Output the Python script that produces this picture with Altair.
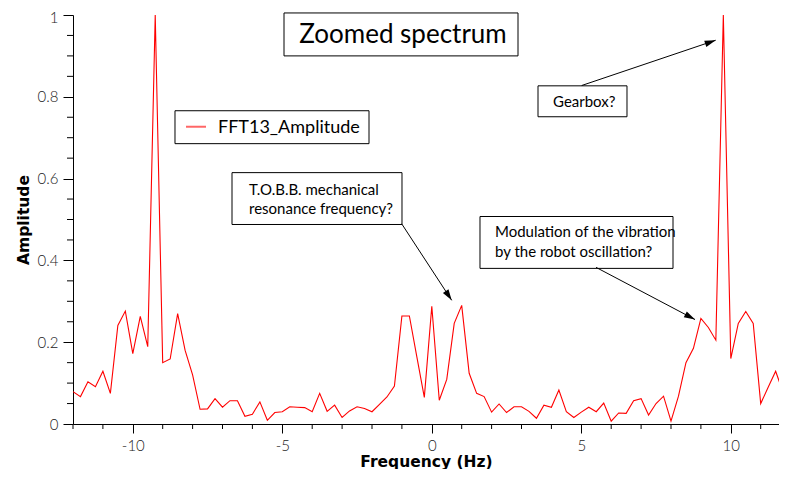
import math
import altair as alt
import pandas as pd

# ---------------- data ----------------
freq_hz = [
    -12.0, -11.75, -11.5, -11.25, -11.0, -10.75, -10.5, -10.25, -10.0, -9.75,
    -9.5, -9.25, -9.0, -8.75, -8.5, -8.25, -8.0, -7.75, -7.5, -7.25,
    -7.0, -6.75, -6.5, -6.25, -6.0, -5.75, -5.5, -5.25, -5.0, -4.75,
    -4.5, -4.25, -4.0, -3.75, -3.5, -3.25, -3.0, -2.75, -2.5, -2.25,
    -2.0, -1.75, -1.5, -1.25, -1.0, -0.75, -0.5, -0.25, 0.0, 0.25,
    0.5, 0.75, 1.0, 1.25, 1.5, 1.75, 2.0, 2.25, 2.5, 2.75,
    3.0, 3.25, 3.5, 3.75, 4.0, 4.25, 4.5, 4.75, 5.0, 5.25,
    5.5, 5.75, 6.0, 6.25, 6.5, 6.75, 7.0, 7.25, 7.5, 7.75,
    8.0, 8.25, 8.5, 8.75, 9.0, 9.25, 9.5, 9.75, 10.0, 10.25,
    10.5, 10.75, 11.0, 11.25, 11.5, 11.75, 12.0,
]
amplitude = [
    0.079, 0.067, 0.103, 0.091, 0.129, 0.075, 0.241, 0.276, 0.172, 0.263,
    0.189, 1.000, 0.150, 0.159, 0.270, 0.180, 0.120, 0.036, 0.037, 0.062,
    0.041, 0.057, 0.057, 0.019, 0.024, 0.054, 0.009, 0.028, 0.030, 0.042,
    0.041, 0.040, 0.030, 0.075, 0.031, 0.046, 0.016, 0.032, 0.042, 0.038,
    0.030, 0.048, 0.066, 0.093, 0.264, 0.264, 0.164, 0.065, 0.288, 0.058,
    0.109, 0.246, 0.290, 0.124, 0.075, 0.067, 0.029, 0.049, 0.028, 0.042,
    0.042, 0.031, 0.014, 0.046, 0.041, 0.083, 0.030, 0.016, 0.029, 0.041,
    0.030, 0.051, 0.007, 0.027, 0.026, 0.057, 0.062, 0.022, 0.050, 0.068,
    0.007, 0.068, 0.150, 0.185, 0.258, 0.236, 0.205, 1.000, 0.160, 0.246,
    0.275, 0.246, 0.050, 0.090, 0.129, 0.077, 0.107,
]
series_name = "FFT13_Amplitude"

x_major_ticks = [-10, -5, 0, 5, 10]
x_minor_ticks = [-12, -11, -9, -8, -7, -6, -4, -3, -2, -1,
                 1, 2, 3, 4, 6, 7, 8, 9, 11]
y_major_ticks = [0, 0.2, 0.4, 0.6, 0.8, 1.0]
y_minor_ticks = [0.05, 0.1, 0.15, 0.25, 0.3, 0.35, 0.45, 0.5, 0.55,
                 0.65, 0.7, 0.75, 0.85, 0.9, 0.95]

chart_title = "Zoomed spectrum"
note_lines = [
    ["T.O.B.B. mechanical", "resonance frequency?"],
    ["Gearbox?"],
    ["Modulation of the vibration", "by the robot oscillation?"],
]

# ---------------- layout (data units) ----------------
PX_PER_X = 29.9
PX_PER_Y = 409.0
PLOT_W, PLOT_H = 706, 409
X_DOMAIN = [-12, -12 + PLOT_W / PX_PER_X]
Y_DOMAIN = [0, 1]

title_box = {"x": -4.943, "x2": 2.883, "y": 1.005, "y2": 0.900}
title_anchor = {"x": -0.963, "y": 0.951}

legend_box = {"x": -8.589, "x2": -2.10, "y": 0.7659, "y2": 0.6854}
legend_sample = {"x": -8.221, "x2": -7.552, "y": 0.7268}
legend_text_pos = {"x": -7.151, "y": 0.7115}

note_boxes = [
    {"x": -6.682, "x2": -0.997, "y": 0.6146, "y2": 0.4878},
    {"x": 3.552, "x2": 6.528, "y": 0.8268, "y2": 0.7512},
    {"x": 1.612, "x2": 8.067, "y": 0.5073, "y2": 0.3805},
]
note_text_x = [-6.114, 4.054, 2.114]
note_text_y = [[0.5593, 0.5139], [0.776], [0.4568, 0.408]]

arrows = [
    {"x": -1.007, "y": 0.4895, "x2": 0.666, "y2": 0.3024},
    {"x": 5.013, "y": 0.8276, "x2": 9.495, "y2": 0.9383},
    {"x": 5.492, "y": 0.383, "x2": 8.803, "y2": 0.2554},
]
HEAD_LEN = 11
MAJOR_TICK, MINOR_TICK_X, MINOR_TICK_Y = 9, 5, 6

FONT = "Lato"
TITLE_FONT = "DejaVu Sans"
LINE_RED = "#ff0000"

# ---------------- build tables ----------------
df = pd.DataFrame({"freq": freq_hz, "amp": amplitude, "series": series_name})

box_df = pd.DataFrame(note_boxes + [legend_box])
title_box_df = pd.DataFrame([title_box])

text_rows = []
for lines, tx, tys in zip(note_lines, note_text_x, note_text_y):
    for line, ty in zip(lines, tys):
        text_rows.append({"x": tx, "y": ty, "text": line})
text_df = pd.DataFrame(text_rows)

head_rows = []
for a in arrows:
    dxp = (a["x2"] - a["x"]) * PX_PER_X
    dyp = -(a["y2"] - a["y"]) * PX_PER_Y
    L = math.hypot(dxp, dyp)
    ux, uy = dxp / L, dyp / L
    ang = math.degrees(math.atan2(ux, -uy)) % 360
    cx = a["x2"] - (HEAD_LEN / 2) * ux / PX_PER_X
    cy = a["y2"] + (HEAD_LEN / 2) * uy / PX_PER_Y
    head_rows.append({"x": cx, "y": cy, "angle": ang})
head_df = pd.DataFrame(head_rows)
arrow_df = pd.DataFrame(arrows)

xs = alt.Scale(domain=X_DOMAIN, nice=False, zero=False)
ys = alt.Scale(domain=Y_DOMAIN, nice=False, zero=False)


def build(top_label_offset):
    x_axis = alt.Axis(
        values=x_major_ticks,
        labelExpr="'' + datum.value",
        tickSize=MAJOR_TICK,
        grid=False, domainColor="black", tickColor="black",
        labelFont=FONT, labelFontSize=15, labelFontWeight=300, labelColor="#222",
        labelPadding=5, labelFlush=False,
        title="Frequency (Hz)", titleFont=TITLE_FONT, titleFontWeight="bold",
        titleFontSize=15.5, titleColor="black", titlePadding=1,
    )
    y_kwargs = dict(
        values=y_major_ticks,
        labelExpr="format(datum.value, '~g')",
        tickSize=10,
        grid=False, domainColor="black", tickColor="black",
        labelFont=FONT, labelFontSize=15, labelFontWeight=300, labelColor="#222",
        labelPadding=5, labelFlush=False,
        title="Amplitude", titleFont=TITLE_FONT, titleFontWeight="bold",
        titleFontSize=15.5, titleColor="black", titlePadding=6,
    )
    if top_label_offset:
        y_kwargs["labelOffset"] = {
            "condition": {"test": "datum.value === 1", "value": top_label_offset},
            "value": 0,
        }
    y_axis = alt.Axis(**y_kwargs)

    line = alt.Chart(df).mark_line(strokeWidth=1.1, clip=True).encode(
        x=alt.X("freq:Q", scale=xs, axis=x_axis),
        y=alt.Y("amp:Q", scale=ys, axis=y_axis),
        color=alt.Color("series:N", scale=alt.Scale(range=[LINE_RED]), legend=None),
    )

    x_minor = alt.Chart(pd.DataFrame({"t": x_minor_ticks})).mark_rule(
        color="black", strokeWidth=1, clip=False
    ).encode(x=alt.X("t:Q", scale=xs), y=alt.value(PLOT_H), y2=alt.value(PLOT_H + MINOR_TICK_X))

    y_minor = alt.Chart(pd.DataFrame({"t": y_minor_ticks})).mark_rule(
        color="black", strokeWidth=1, clip=False
    ).encode(y=alt.Y("t:Q", scale=ys), x=alt.value(0), x2=alt.value(-MINOR_TICK_Y))

    title_rect = alt.Chart(title_box_df).mark_rect(
        fill="white", stroke="black", strokeWidth=1, clip=False
    ).encode(x=alt.X("x:Q", scale=xs), x2="x2:Q", y=alt.Y("y:Q", scale=ys), y2="y2:Q")

    title_text = alt.Chart(pd.DataFrame([dict(title_anchor, text=chart_title)])).mark_text(
        font=FONT, fontSize=26, color="black", align="center", baseline="middle", clip=False
    ).encode(x=alt.X("x:Q", scale=xs), y=alt.Y("y:Q", scale=ys), text="text:N")

    boxes = alt.Chart(box_df).mark_rect(
        fill="white", stroke="black", strokeWidth=1, clip=False
    ).encode(x=alt.X("x:Q", scale=xs), x2="x2:Q", y=alt.Y("y:Q", scale=ys), y2="y2:Q")

    legend_line = alt.Chart(pd.DataFrame([dict(legend_sample, series=series_name)])).mark_rule(
        strokeWidth=2, opacity=0.6, clip=False
    ).encode(
        x=alt.X("x:Q", scale=xs), x2="x2:Q", y=alt.Y("y:Q", scale=ys),
        color=alt.Color("series:N", scale=alt.Scale(range=[LINE_RED]), legend=None),
    )

    legend_label = alt.Chart(pd.DataFrame([dict(legend_text_pos, text=series_name)])).mark_text(
        font=FONT, fontSize=18, color="black", align="left", baseline="alphabetic", clip=False
    ).encode(x=alt.X("x:Q", scale=xs), y=alt.Y("y:Q", scale=ys), text="text:N")

    note_text = alt.Chart(text_df).mark_text(
        font=FONT, fontSize=15, color="black", align="left", baseline="alphabetic", clip=False
    ).encode(x=alt.X("x:Q", scale=xs), y=alt.Y("y:Q", scale=ys), text="text:N")

    arrow_lines = alt.Chart(arrow_df).mark_rule(
        color="black", strokeWidth=1, clip=False
    ).encode(x=alt.X("x:Q", scale=xs), y=alt.Y("y:Q", scale=ys), x2="x2:Q", y2="y2:Q")

    arrow_heads = alt.Chart(head_df).mark_point(
        shape="M0,-1L0.6,1L-0.6,1Z", filled=True, color="black", opacity=1,
        size=HEAD_LEN ** 2, clip=False
    ).encode(x=alt.X("x:Q", scale=xs), y=alt.Y("y:Q", scale=ys),
             angle=alt.Angle("angle:Q", scale=None))

    return alt.layer(
        line, x_minor, y_minor, title_rect, title_text, boxes, legend_line,
        legend_label, note_text, arrow_lines, arrow_heads
    ).properties(
        width=PLOT_W, height=PLOT_H,
        autosize=alt.AutoSizeParams(type="none"),
        padding={"left": 65, "top": 7, "right": 0, "bottom": 45},
        background="white",
    ).configure_view(stroke=None)


try:
    chart = build(2)
    chart.to_dict()
except Exception:
    chart = build(0)

chart.save("out.html", embed_options={"renderer": "svg", "actions": False})
